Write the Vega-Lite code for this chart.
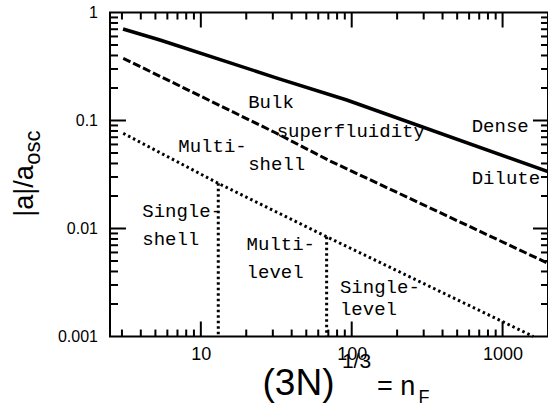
{
  "$schema": "https://vega.github.io/schema/vega-lite/v6.json",
  "width": 438,
  "height": 324,
  "autosize": {"type": "none"},
  "padding": {"left": 110, "top": 12.5, "right": 0, "bottom": 70.5},
  "background": "white",
  "config": {"view": {"stroke": "black", "strokeWidth": 2}},
  "datasets": {
    "solid": [
      {"n": 3.05, "a": 0.7035},
      {"n": 5.36, "a": 0.5564},
      {"n": 32.3, "a": 0.2459},
      {"n": 92.7, "a": 0.1548},
      {"n": 2000, "a": 0.0336}
    ],
    "dashed": [
      {"n": 3.06, "a": 0.3766},
      {"n": 31.0, "a": 0.0774},
      {"n": 71.8, "a": 0.0422},
      {"n": 2000, "a": 0.00476}
    ],
    "dotted": [
      {"n": 3.06, "a": 0.0761},
      {"n": 13.05, "a": 0.0262},
      {"n": 68.2, "a": 0.00839},
      {"n": 1600, "a": 0.001}
    ],
    "verticals": [
      {"n": 13.05, "top": 0.0262, "bottom": 0.001},
      {"n": 68.2, "top": 0.00839, "bottom": 0.001}
    ],
    "labels": [
      {"n": 20.6, "a": 0.1297, "text": "Bulk"},
      {"n": 31.8, "a": 0.0696, "text": "superfluidity"},
      {"n": 7.09, "a": 0.0514, "text": "Multi-"},
      {"n": 20.6, "a": 0.0348, "text": "shell"},
      {"n": 624, "a": 0.0777, "text": "Dense"},
      {"n": 624, "a": 0.0258, "text": "Dilute"},
      {"n": 4.09, "a": 0.01286, "text": "Single-"},
      {"n": 4.09, "a": 0.00704, "text": "shell"},
      {"n": 20.1, "a": 0.00632, "text": "Multi-"},
      {"n": 20.1, "a": 0.00346, "text": "level"},
      {"n": 83.6, "a": 0.00251, "text": "Single-"},
      {"n": 83.6, "a": 0.00158, "text": "level"}
    ],
    "xmajor": [{"n": 10}, {"n": 100}, {"n": 1000}],
    "xminor": [
      {"n": 3}, {"n": 4}, {"n": 5}, {"n": 6}, {"n": 7}, {"n": 8}, {"n": 9},
      {"n": 20}, {"n": 30}, {"n": 40}, {"n": 50}, {"n": 60}, {"n": 70}, {"n": 80}, {"n": 90},
      {"n": 200}, {"n": 300}, {"n": 400}, {"n": 500}, {"n": 600}, {"n": 700}, {"n": 800}, {"n": 900}
    ],
    "ymajor": [{"a": 0.01}, {"a": 0.1}],
    "yminor": [
      {"a": 0.002}, {"a": 0.003}, {"a": 0.004}, {"a": 0.005}, {"a": 0.006}, {"a": 0.007}, {"a": 0.008}, {"a": 0.009},
      {"a": 0.02}, {"a": 0.03}, {"a": 0.04}, {"a": 0.05}, {"a": 0.06}, {"a": 0.07}, {"a": 0.08}, {"a": 0.09},
      {"a": 0.2}, {"a": 0.3}, {"a": 0.4}, {"a": 0.5}, {"a": 0.6}, {"a": 0.7}, {"a": 0.8}, {"a": 0.9}
    ],
    "titles": [
      {"n": 44.4, "a": 0.000287, "text": "(3N)"}
    ],
    "t_sup": [{"n": 107.6, "a": 0.000511, "text": "1/3"}],
    "t_eq": [{"n": 196.7, "a": 0.000287, "text": "= n"}],
    "t_sub": [{"n": 301.4, "a": 0.000241, "text": "F"}],
    "t_y": [{"n": 0.772, "a": 0.02225, "text": "|a|/a"}],
    "t_ysub": [{"n": 0.859, "a": 0.0562, "text": "osc"}]
  },
  "layer": [
    {
      "data": {"name": "solid"},
      "mark": {"type": "line", "color": "black", "strokeWidth": 3.5},
      "encoding": {
        "x": {"field": "n", "type": "quantitative", "scale": {"type": "log", "domain": [2.5, 2000], "nice": false},
          "axis": {"values": [10, 100, 1000], "ticks": false, "domain": false, "grid": false,
            "labelExpr": "'' + datum.value", "labelFont": "Liberation Sans", "labelFontSize": 18, "labelColor": "black",
            "labelPadding": 9, "labelBaseline": "top", "labelFlush": false, "labelOverlap": false, "title": null}},
        "y": {"field": "a", "type": "quantitative", "scale": {"type": "log", "domain": [0.001, 1], "nice": false},
          "axis": {"values": [0.001, 0.01, 0.1, 1], "ticks": false, "domain": false, "grid": false,
            "labelExpr": "'' + datum.value", "labelFont": "Liberation Sans", "labelFontSize": 16, "labelColor": "black",
            "labelPadding": 12.5, "labelFlush": false, "labelOverlap": false, "title": null}}
      }
    },
    {
      "data": {"name": "xmajor"},
      "mark": {"type": "rule", "color": "#000000", "strokeWidth": 2},
      "encoding": {
        "x": {"field": "n", "type": "quantitative", "scale": {"type": "log", "domain": [2.5, 2000], "nice": false}},
        "y": {"datum": 0.001, "type": "quantitative", "scale": {"type": "log", "domain": [0.001, 1], "nice": false}},
        "y2": {"datum": 0.001377}
      }
    },
    {
      "data": {"name": "xminor"},
      "mark": {"type": "rule", "color": "#000000", "strokeWidth": 2},
      "encoding": {
        "x": {"field": "n", "type": "quantitative", "scale": {"type": "log", "domain": [2.5, 2000], "nice": false}},
        "y": {"datum": 0.001, "type": "quantitative", "scale": {"type": "log", "domain": [0.001, 1], "nice": false}},
        "y2": {"datum": 0.00116}
      }
    },
    {
      "data": {"name": "xmajor"},
      "mark": {"type": "rule", "color": "#000000", "strokeWidth": 2},
      "encoding": {
        "x": {"field": "n", "type": "quantitative", "scale": {"type": "log", "domain": [2.5, 2000], "nice": false}},
        "y": {"datum": 1, "type": "quantitative", "scale": {"type": "log", "domain": [0.001, 1], "nice": false}},
        "y2": {"datum": 0.7262}
      }
    },
    {
      "data": {"name": "xminor"},
      "mark": {"type": "rule", "color": "#000000", "strokeWidth": 2},
      "encoding": {
        "x": {"field": "n", "type": "quantitative", "scale": {"type": "log", "domain": [2.5, 2000], "nice": false}},
        "y": {"datum": 1, "type": "quantitative", "scale": {"type": "log", "domain": [0.001, 1], "nice": false}},
        "y2": {"datum": 0.861}
      }
    },
    {
      "data": {"name": "ymajor"},
      "mark": {"type": "rule", "color": "#000000", "strokeWidth": 2},
      "encoding": {
        "y": {"field": "a", "type": "quantitative", "scale": {"type": "log", "domain": [0.001, 1], "nice": false}},
        "x": {"datum": 2.5, "type": "quantitative", "scale": {"type": "log", "domain": [2.5, 2000], "nice": false}},
        "x2": {"datum": 3.19}
      }
    },
    {
      "data": {"name": "yminor"},
      "mark": {"type": "rule", "color": "#000000", "strokeWidth": 2},
      "encoding": {
        "y": {"field": "a", "type": "quantitative", "scale": {"type": "log", "domain": [0.001, 1], "nice": false}},
        "x": {"datum": 2.5, "type": "quantitative", "scale": {"type": "log", "domain": [2.5, 2000], "nice": false}},
        "x2": {"datum": 2.825}
      }
    },
    {
      "data": {"name": "ymajor"},
      "mark": {"type": "rule", "color": "#000000", "strokeWidth": 2},
      "encoding": {
        "y": {"field": "a", "type": "quantitative", "scale": {"type": "log", "domain": [0.001, 1], "nice": false}},
        "x": {"datum": 2000, "type": "quantitative", "scale": {"type": "log", "domain": [2.5, 2000], "nice": false}},
        "x2": {"datum": 1590.6}
      }
    },
    {
      "data": {"name": "yminor"},
      "mark": {"type": "rule", "color": "#000000", "strokeWidth": 2},
      "encoding": {
        "y": {"field": "a", "type": "quantitative", "scale": {"type": "log", "domain": [0.001, 1], "nice": false}},
        "x": {"datum": 2000, "type": "quantitative", "scale": {"type": "log", "domain": [2.5, 2000], "nice": false}},
        "x2": {"datum": 1797.6}
      }
    },
    {
      "data": {"name": "dashed"},
      "mark": {"type": "line", "color": "black", "strokeWidth": 3, "strokeDash": [8, 3]},
      "encoding": {
        "x": {"field": "n", "type": "quantitative", "scale": {"type": "log", "domain": [2.5, 2000], "nice": false}},
        "y": {"field": "a", "type": "quantitative", "scale": {"type": "log", "domain": [0.001, 1], "nice": false}}
      }
    },
    {
      "data": {"name": "dotted"},
      "mark": {"type": "line", "color": "black", "strokeWidth": 3, "strokeDash": [2.5, 3]},
      "encoding": {
        "x": {"field": "n", "type": "quantitative", "scale": {"type": "log", "domain": [2.5, 2000], "nice": false}},
        "y": {"field": "a", "type": "quantitative", "scale": {"type": "log", "domain": [0.001, 1], "nice": false}}
      }
    },
    {
      "data": {"name": "verticals"},
      "mark": {"type": "rule", "color": "black", "strokeWidth": 3, "strokeDash": [2.5, 3]},
      "encoding": {
        "x": {"field": "n", "type": "quantitative", "scale": {"type": "log", "domain": [2.5, 2000], "nice": false}},
        "y": {"field": "top", "type": "quantitative", "scale": {"type": "log", "domain": [0.001, 1], "nice": false}},
        "y2": {"field": "bottom"}
      }
    },
    {
      "data": {"name": "labels"},
      "mark": {"type": "text", "color": "black", "font": "Liberation Mono", "fontSize": 19, "align": "left", "baseline": "alphabetic"},
      "encoding": {
        "x": {"field": "n", "type": "quantitative", "scale": {"type": "log", "domain": [2.5, 2000], "nice": false}},
        "y": {"field": "a", "type": "quantitative", "scale": {"type": "log", "domain": [0.001, 1], "nice": false}},
        "text": {"field": "text"}
      }
    },
    {
      "data": {"name": "titles"},
      "mark": {"type": "text", "color": "black", "font": "Liberation Sans", "fontSize": 37, "align": "center", "baseline": "alphabetic"},
      "encoding": {
        "x": {"field": "n", "type": "quantitative", "scale": {"type": "log", "domain": [2.5, 2000], "nice": false}},
        "y": {"field": "a", "type": "quantitative", "scale": {"type": "log", "domain": [0.001, 1], "nice": false}},
        "text": {"field": "text"}
      }
    },
    {
      "data": {"name": "t_sup"},
      "mark": {"type": "text", "color": "black", "font": "Liberation Sans", "fontSize": 21, "align": "center", "baseline": "alphabetic"},
      "encoding": {
        "x": {"field": "n", "type": "quantitative", "scale": {"type": "log", "domain": [2.5, 2000], "nice": false}},
        "y": {"field": "a", "type": "quantitative", "scale": {"type": "log", "domain": [0.001, 1], "nice": false}},
        "text": {"field": "text"}
      }
    },
    {
      "data": {"name": "t_eq"},
      "mark": {"type": "text", "color": "black", "font": "Liberation Sans", "fontSize": 27, "align": "center", "baseline": "alphabetic"},
      "encoding": {
        "x": {"field": "n", "type": "quantitative", "scale": {"type": "log", "domain": [2.5, 2000], "nice": false}},
        "y": {"field": "a", "type": "quantitative", "scale": {"type": "log", "domain": [0.001, 1], "nice": false}},
        "text": {"field": "text"}
      }
    },
    {
      "data": {"name": "t_sub"},
      "mark": {"type": "text", "color": "black", "font": "Liberation Sans", "fontSize": 18, "align": "center", "baseline": "alphabetic"},
      "encoding": {
        "x": {"field": "n", "type": "quantitative", "scale": {"type": "log", "domain": [2.5, 2000], "nice": false}},
        "y": {"field": "a", "type": "quantitative", "scale": {"type": "log", "domain": [0.001, 1], "nice": false}},
        "text": {"field": "text"}
      }
    },
    {
      "data": {"name": "t_y"},
      "mark": {"type": "text", "color": "black", "font": "Liberation Sans", "fontSize": 27, "align": "center", "baseline": "alphabetic", "angle": 270},
      "encoding": {
        "x": {"field": "n", "type": "quantitative", "scale": {"type": "log", "domain": [2.5, 2000], "nice": false}},
        "y": {"field": "a", "type": "quantitative", "scale": {"type": "log", "domain": [0.001, 1], "nice": false}},
        "text": {"field": "text"}
      }
    },
    {
      "data": {"name": "t_ysub"},
      "mark": {"type": "text", "color": "black", "font": "Liberation Sans", "fontSize": 22, "align": "center", "baseline": "alphabetic", "angle": 270},
      "encoding": {
        "x": {"field": "n", "type": "quantitative", "scale": {"type": "log", "domain": [2.5, 2000], "nice": false}},
        "y": {"field": "a", "type": "quantitative", "scale": {"type": "log", "domain": [0.001, 1], "nice": false}},
        "text": {"field": "text"}
      }
    }
  ]
}
